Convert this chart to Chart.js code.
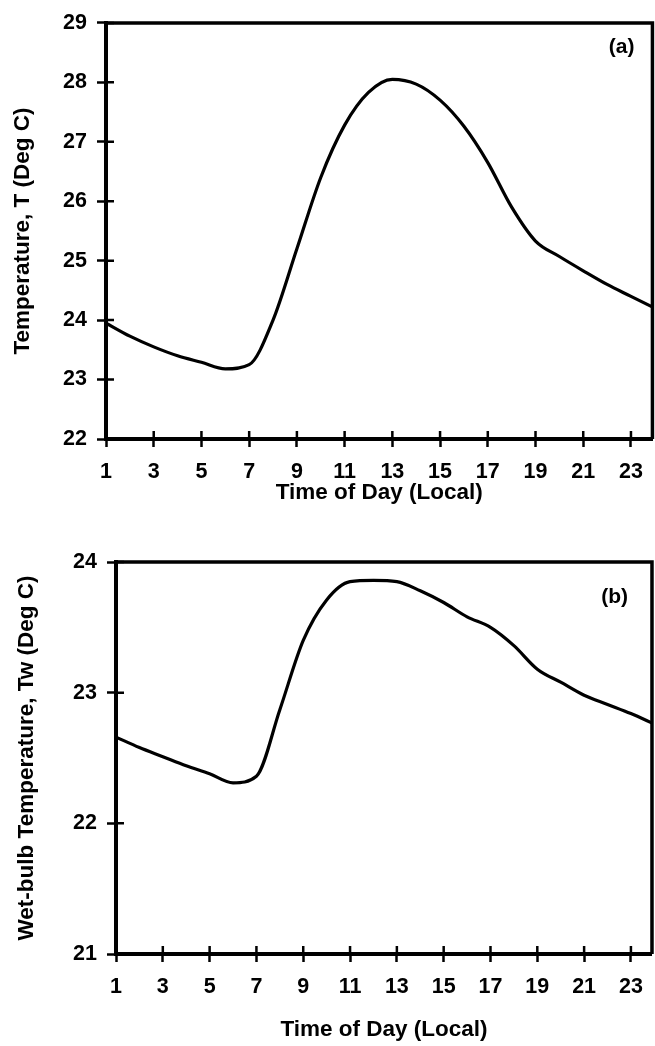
<!DOCTYPE html>
<html>
<head>
<meta charset="utf-8">
<script src="https://cdn.jsdelivr.net/npm/chart.js@4"></script>
<style>
  html, body { margin: 0; padding: 0; background: #fff; }
  body { width: 655px; height: 1046px; position: relative; overflow: hidden; }
  .box { position: absolute; left: 0; }
  canvas { display: block; }
</style>
</head>
<body>
<div class="box" style="top:0"><canvas id="chartA" width="655" height="520"></canvas></div>
<div class="box" style="top:520px"><canvas id="chartB" width="655" height="526"></canvas></div>
<script>
// ---- data ----
const hours = [1,2,3,4,5,6,7,8,9,10,11,12,13,14,15,16,17,18,19,20,21,22,23,24];
const tempT = [23.95,23.73,23.55,23.40,23.29,23.18,23.25,24.00,25.20,26.40,27.28,27.83,
               28.05,27.97,27.70,27.26,26.65,25.90,25.33,25.07,24.83,24.60,24.40,24.20];
const tempTw = [22.66,22.58,22.51,22.44,22.38,22.31,22.36,22.87,23.40,23.71,23.85,23.86,
                23.85,23.78,23.69,23.58,23.50,23.36,23.18,23.08,22.98,22.91,22.84,22.76];
const xTickLabels = [1,3,5,7,9,11,13,15,17,19,21,23];
const yTicksA = [22,23,24,25,26,27,28,29];
const yTicksB = [21,22,23,24];
const xMin = 1, xMax = 23.9;
const xTitle = 'Time of Day (Local)';
const yTitleA = 'Temperature, T (Deg C)';
const yTitleB = 'Wet-bulb Temperature, Tw (Deg C)';

const FONT = '"Liberation Sans", Arial, Helvetica, sans-serif';

const framePlugin = {
  id: 'frame',
  afterDatasetsDraw(chart, args, opts) {
    const {ctx, chartArea: a, scales: {x, y}} = chart;
    ctx.save();
    ctx.strokeStyle = '#000';
    ctx.lineCap = 'butt';
    ctx.lineWidth = 3.5;
    ctx.beginPath();
    ctx.moveTo(a.left, a.top);
    ctx.lineTo(a.right, a.top);
    ctx.lineTo(a.right, a.bottom);
    ctx.stroke();
    ctx.lineWidth = 2.5;
    ctx.beginPath();
    x.ticks.forEach(t => {
      const px = x.getPixelForValue(t.value);
      ctx.moveTo(px, a.bottom); ctx.lineTo(px, a.bottom - 8);
    });
    y.ticks.forEach(t => {
      const py = y.getPixelForValue(t.value);
      ctx.moveTo(a.left, py); ctx.lineTo(a.left + 8, py);
    });
    ctx.stroke();
    ctx.fillStyle = '#000';
    ctx.font = 'bold 21px ' + FONT;
    ctx.textAlign = 'right';
    ctx.textBaseline = 'middle';
    ctx.fillText(opts.label, a.right - opts.dx, a.top + opts.dy);
    ctx.restore();
  }
};

function makeChart(id, values, yMin, yMax, yTicks, yTitle, cfg) {
  return new Chart(document.getElementById(id), {
    type: 'line',
    data: {
      datasets: [{
        data: hours.map((h, i) => ({x: h, y: values[i]})),
        borderColor: '#000',
        borderWidth: 3.2,
        pointRadius: 0,
        fill: false,
        cubicInterpolationMode: 'monotone'
      }]
    },
    options: {
      responsive: false,
      animation: false,
      events: [],
      layout: { padding: { top: cfg.padTop, right: cfg.padRight, left: 0, bottom: 0 } },
      plugins: {
        legend: { display: false },
        tooltip: { enabled: false },
        frame: { label: cfg.label, dx: cfg.labelDx, dy: cfg.labelDy }
      },
      scales: {
        x: {
          type: 'linear',
          min: xMin, max: xMax,
          afterBuildTicks: s => { s.ticks = xTickLabels.map(v => ({value: v})); },
          afterFit: s => { s.height = cfg.xHeight; },
          grid: { drawOnChartArea: false, drawTicks: true, tickLength: 8, tickColor: '#000', tickWidth: 2.5 },
          border: { display: true, color: '#000', width: 4 },
          ticks: { color: '#000', font: { family: FONT, size: 21.5, weight: 'bold' }, padding: 12, maxRotation: 0, autoSkip: false },
          title: { display: true, text: xTitle, color: '#000', font: { family: FONT, size: 22.5, weight: 'bold' }, padding: { top: 0, bottom: cfg.xTitlePad } }
        },
        y: {
          type: 'linear',
          min: yMin, max: yMax,
          afterBuildTicks: s => { s.ticks = yTicks.map(v => ({value: v})); },
          afterFit: s => { s.width = cfg.yWidth; },
          grid: { drawOnChartArea: false, drawTicks: true, tickLength: 9, tickColor: '#000', tickWidth: 2.5 },
          border: { display: true, color: '#000', width: 4 },
          ticks: { color: '#000', font: { family: FONT, size: 21.5, weight: 'bold' }, padding: 10, autoSkip: false },
          title: { display: true, text: yTitle, color: '#000', font: { family: FONT, size: 22.5, weight: 'bold' }, padding: { top: cfg.yTitlePad, bottom: 0 } }
        }
      }
    },
    plugins: [framePlugin]
  });
}

makeChart('chartA', tempT, 22, 29, yTicksA, yTitleA, {
  padTop: 19, padRight: 2, yWidth: 106, xHeight: 81, xTitlePad: 13.5, yTitlePad: 9.5,
  label: '(a)', labelDx: 18, labelDy: 24
});
makeChart('chartB', tempTw, 21, 24, yTicksB, yTitleB, {
  padTop: 42, padRight: 3, yWidth: 116, xHeight: 92, xTitlePad: 2.5, yTitlePad: 13.5,
  label: '(b)', labelDx: 24, labelDy: 35
});
</script>
</body>
</html>
